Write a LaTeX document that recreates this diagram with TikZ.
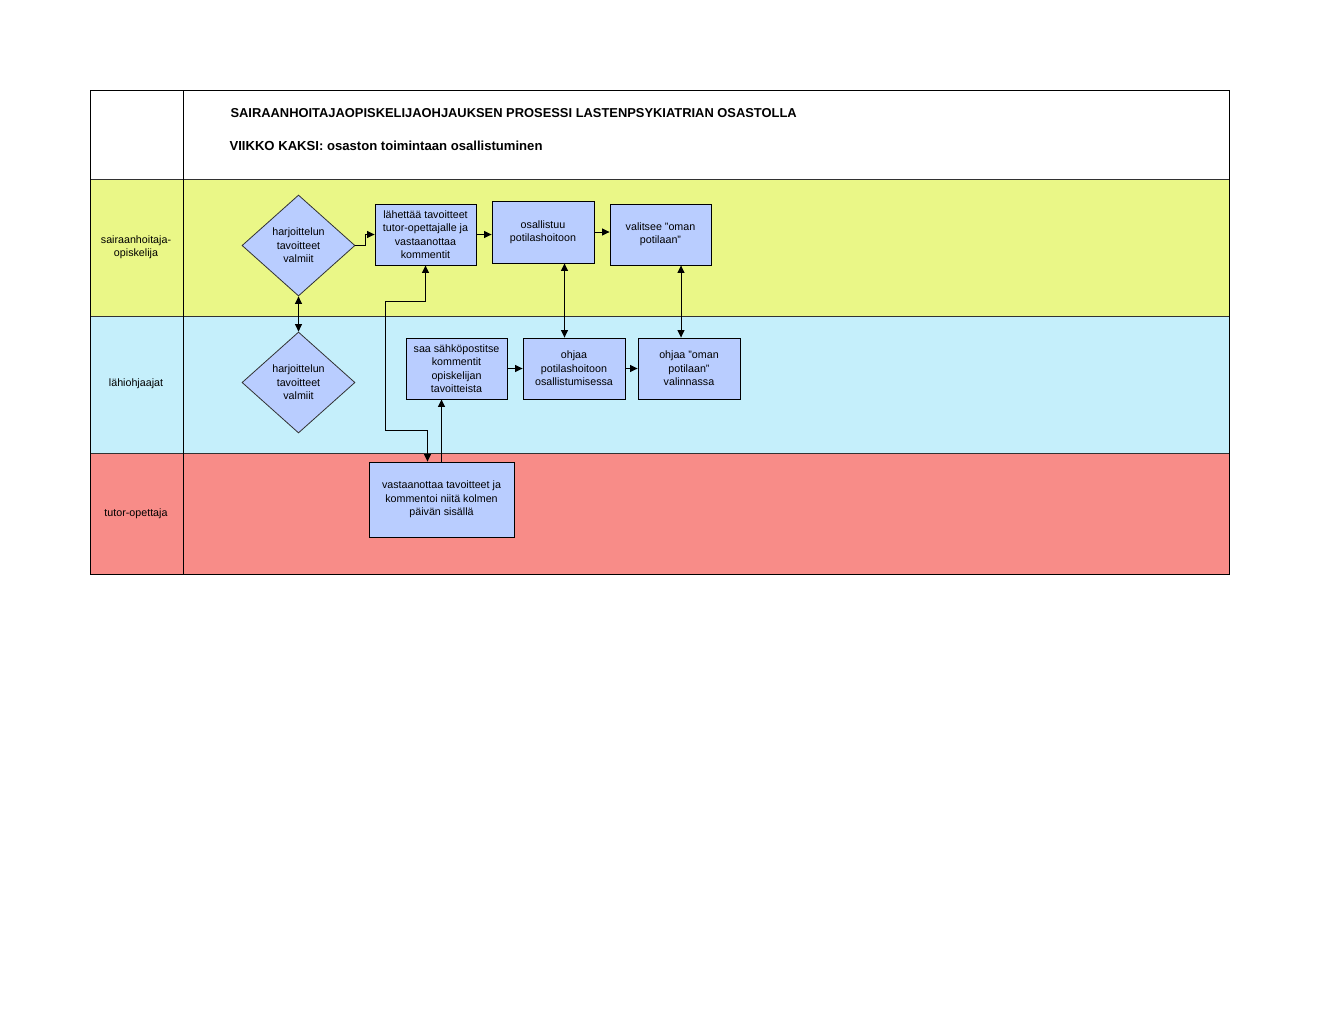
\documentclass[tikz,border=0pt]{standalone}
\usepackage{fontspec}
\setmainfont{Liberation Sans}
\usetikzlibrary{shapes.geometric,arrows.meta,calc}
\definecolor{laneY}{RGB}{234,247,135}
\definecolor{laneB}{RGB}{197,239,251}
\definecolor{laneR}{RGB}{248,140,136}
\definecolor{nodeF}{RGB}{185,205,255}
\definecolor{sepC}{RGB}{50,50,50}
\tikzset{
  stepbox/.style={draw=black, line width=0.85pt, fill=nodeF, rectangle, inner sep=0pt, align=center,
    font=\fontsize{10.7}{13.4}\selectfont},
  decision/.style={draw=sepC, line width=0.8pt, fill=nodeF, diamond, inner sep=0pt, align=center,
    minimum width=113, minimum height=101, font=\fontsize{10.7}{13.4}\selectfont},
  lanelabel/.style={align=center, font=\fontsize{10.7}{13.4}\selectfont},
  conn/.style={line width=0.9pt, -{Triangle[length=7.5pt,width=7pt]}},
  connboth/.style={line width=0.9pt, {Triangle[length=7.5pt,width=7pt]}-{Triangle[length=7.5pt,width=7pt]}},
}
\begin{document}
\begin{tikzpicture}[x=1pt,y=-1pt]
\useasboundingbox (0,0) rectangle (1320,1020);
\fill[white] (0,0) rectangle (1320,1020);
% lanes
\fill[laneY] (90,179) rectangle (1229,316);
\fill[laneB] (90,316) rectangle (1229,453);
\fill[laneR] (90,453) rectangle (1229,574);
\draw[sepC, line width=0.9pt] (90,179) -- (1229,179);
\draw[sepC, line width=0.9pt] (90,316) -- (1229,316);
\draw[sepC, line width=0.9pt] (90,453) -- (1229,453);
\draw[black, line width=0.9pt] (183,90) -- (183,574);
\draw[black, line width=1pt] (90,90) rectangle (1229,574);
% titles
\node[anchor=west, font=\fontsize{12.9}{15}\selectfont\bfseries] (title) at (227,113) {SAIRAANHOITAJAOPISKELIJAOHJAUKSEN PROSESSI LASTENPSYKIATRIAN OSASTOLLA};
\node[anchor=west, font=\fontsize{13.1}{15}\selectfont\bfseries] (subtitle) at (226,146) {VIIKKO KAKSI: osaston toimintaan osallistuminen};
% lane labels
\node[lanelabel] (l1) at (136,247) {sairaanhoitaja-\\opiskelija};
\node[lanelabel] (l2) at (136,384) {lähiohjaajat};
\node[lanelabel] (l3) at (136,514) {tutor-opettaja};
% nodes
\node[decision] (d1) at (298.5,245.5) {harjoittelun\\tavoitteet\\valmiit};
\node[decision] (d2) at (298.5,382.5) {harjoittelun\\tavoitteet\\valmiit};
\node[stepbox, minimum width=101, minimum height=61] (b1) at (425.5,234.5) {lähettää tavoitteet\\tutor-opettajalle ja\\vastaanottaa\\kommentit};
\node[stepbox, minimum width=102, minimum height=62] (b2) at (543,232) {osallistuu\\potilashoitoon};
\node[stepbox, minimum width=101, minimum height=61] (b3) at (660.5,234.5) {valitsee "oman\\potilaan"};
\node[stepbox, minimum width=101, minimum height=61] (c1) at (456.5,368.5) {saa sähköpostitse\\kommentit\\opiskelijan\\tavoitteista};
\node[stepbox, minimum width=102, minimum height=61] (c2) at (574,368.5) {ohjaa\\potilashoitoon\\osallistumisessa};
\node[stepbox, minimum width=102, minimum height=61] (c3) at (689,368.5) {ohjaa "oman\\potilaan"\\valinnassa};
\node[stepbox, minimum width=145, minimum height=75] (e1) at (441.5,499.5) {vastaanottaa tavoitteet ja\\kommentoi niitä kolmen\\päivän sisällä};
% connectors
\draw[conn] (d1.east) -- ++(10,0) |- (b1.west);
\draw[conn] (b1.east) -- (b1.east -| b2.west);
\draw[conn] (b2.east) -- (b2.east -| b3.west);
\draw[connboth] (d1.south) -- (d2.north);
\draw[connboth] ([xshift=21.5]b2.south) -- ([xshift=21.5]b2.south |- c2.north);
\draw[connboth] ([xshift=20.5]b3.south) -- ([xshift=20.5]b3.south |- c3.north);
\draw[conn] (c1.east) -- (c1.east -| c2.west);
\draw[conn] (c2.east) -- (c2.east -| c3.west);
\draw[conn] (e1.north) -- (e1.north |- c1.south);
\coordinate (k1) at (385.5,301.5);
\coordinate (k2) at (385.5,430);
\draw[connboth] (b1.south) |- (k1) -- (k2) -| ([xshift=-14]e1.north);
\end{tikzpicture}
\end{document}
